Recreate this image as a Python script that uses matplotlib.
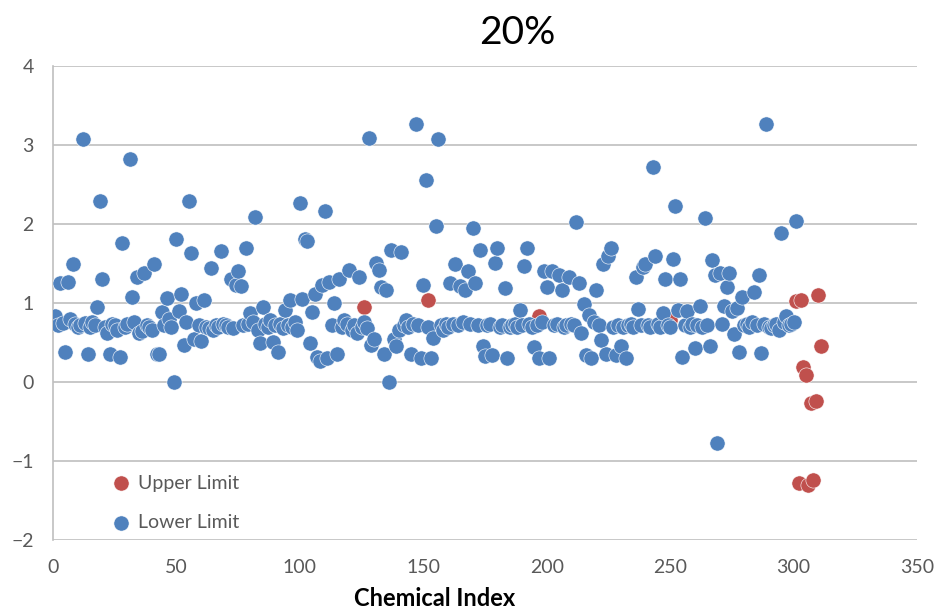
import numpy as np
import matplotlib.pyplot as plt

### Data

# Lower limit, one value per chemical index 1..301
lower_y = [
    0.84, 0.72, 1.25, 0.75, 0.38, 1.26, 0.80, 1.50, 0.74, 0.70,
    0.72, 3.07, 0.75, 0.35, 0.70, 0.76, 0.72, 0.95, 2.29, 1.30,
    0.70, 0.62, 0.35, 0.74, 0.72, 0.66, 0.32, 1.76, 0.70, 0.74,
    2.82, 1.08, 0.76, 1.33, 0.62, 0.65, 1.38, 0.72, 0.70, 0.66,
    1.49, 0.35, 0.35, 0.89, 0.72, 1.06, 0.80, 0.70, 0.00, 1.81,
    0.90, 1.12, 0.47, 0.76, 2.29, 1.63, 0.54, 1.00, 0.72, 0.52,
    1.04, 0.70, 0.68, 1.44, 0.66, 0.72, 0.70, 1.66, 0.74, 0.72,
    0.70, 1.31, 0.68, 1.23, 1.40, 1.21, 0.72, 1.70, 0.74, 0.87,
    0.76, 2.09, 0.66, 0.49, 0.95, 0.74, 0.70, 0.78, 0.51, 0.72,
    0.38, 0.74, 0.68, 0.91, 0.72, 1.04, 0.70, 0.76, 0.66, 2.26,
    1.05, 1.81, 1.78, 0.50, 0.89, 1.12, 0.32, 0.26, 1.23, 2.16,
    0.30, 1.27, 0.72, 1.00, 0.36, 1.31, 0.70, 0.78, 0.74, 1.42,
    0.66, 0.72, 0.62, 1.33, 0.70, 0.76, 0.68, 3.09, 0.47, 0.55,
    1.51, 1.42, 1.20, 0.36, 1.16, 0.00, 1.67, 0.55, 0.45, 0.66,
    1.65, 0.72, 0.78, 0.70, 0.36, 0.74, 3.27, 0.72, 0.31, 1.23,
    2.56, 0.70, 0.31, 0.56, 1.97, 3.08, 0.72, 0.66, 0.74, 0.70,
    1.25, 0.74, 1.50, 0.72, 1.21, 0.76, 1.17, 1.40, 0.74, 1.95,
    1.25, 0.72, 1.67, 0.45, 0.33, 0.72, 0.74, 0.34, 1.51, 1.69,
    0.70, 0.72, 1.19, 0.31, 0.70, 0.72, 0.74, 0.70, 0.91, 0.72,
    1.47, 1.69, 0.74, 0.70, 0.44, 0.72, 0.30, 0.76, 1.40, 1.20,
    0.31, 1.40, 0.72, 0.74, 1.35, 1.16, 0.70, 0.72, 1.33, 0.74,
    0.72, 2.03, 1.25, 0.62, 0.99, 0.34, 0.85, 0.30, 0.76, 1.16,
    0.72, 0.53, 1.49, 0.35, 1.59, 1.70, 0.70, 0.34, 0.72, 0.45,
    0.70, 0.30, 0.72, 0.74, 0.70, 1.33, 0.92, 0.72, 1.46, 1.49,
    0.72, 0.70, 2.72, 1.59, 0.74, 0.70, 0.87, 1.31, 0.72, 0.70,
    1.56, 2.23, 0.91, 1.31, 0.32, 0.72, 0.90, 0.70, 0.74, 0.43,
    0.72, 0.96, 0.70, 2.08, 0.72, 0.45, 1.55, 1.35, -0.77, 1.38,
    0.74, 0.96, 1.20, 1.38, 0.90, 0.61, 0.94, 0.38, 1.07, 0.72,
    0.74, 0.70, 0.76, 1.14, 0.72, 1.35, 0.37, 0.74, 3.27, 0.70,
    0.68, 0.72, 0.74, 0.66, 1.89, 0.76, 0.83, 0.72, 0.74, 0.76,
    2.04,
]
lower_x = np.arange(1, len(lower_y) + 1)

# Upper limit points that show on the chart
upper_x = [126, 152, 197, 250, 301, 302, 303, 304, 305, 306, 307, 308, 309, 310, 311]
upper_y = [0.95, 1.04, 0.83, 0.78, 1.02, -1.28, 1.04, 0.19, 0.09, -1.31,
           -0.26, -1.24, -0.24, 1.10, 0.46]

BLUE = '#4F81BD'
RED = '#C0504D'
GRAY = '#595959'

plt.rcParams['font.family'] = ['Lato', 'DejaVu Sans']

fig = plt.figure(figsize=(9.39, 6.11), dpi=100)
ax = fig.add_axes([53 / 939, 1 - 540 / 611, (917 - 53) / 939, (540 - 66) / 611])

ax.scatter(upper_x, upper_y, s=120, c=RED, edgecolors='white', linewidths=0.4,
           label='Upper Limit', zorder=3)
ax.scatter(lower_x, lower_y, s=120, c=BLUE, edgecolors='white', linewidths=0.4,
           label='Lower Limit', zorder=4)

ax.set_xlim(0, 350)
ax.set_ylim(-2, 4)
ax.set_xticks(range(0, 351, 50))
ax.set_yticks(range(-2, 5))
ax.yaxis.grid(True, color='#BFBFBF', linewidth=1.2)
ax.set_axisbelow(True)
for s in ['top', 'right', 'bottom']:
    ax.spines[s].set_visible(False)
ax.spines['left'].set_color('#BFBFBF')
ax.spines['left'].set_linewidth(1.2)
ax.tick_params(length=0, labelsize=14, labelcolor=GRAY)
ax.tick_params(axis='x', pad=14)
ax.tick_params(axis='y', pad=14)

leg = ax.legend(loc='upper left', bbox_to_anchor=(0.045, 0.175), frameon=False,
                fontsize=14, labelcolor=GRAY, handlelength=1.2, handletextpad=0.25,
                labelspacing=1.15, markerscale=1.0)

fig.text(517 / 939, 1 - 33 / 611, '20%', fontsize=28, ha='center', va='center')
fig.text(435 / 939, 1 - 598 / 611, 'Chemical Index', fontsize=17,
         fontweight='bold', ha='center', va='center')

fig.savefig('out.png', dpi=100)
